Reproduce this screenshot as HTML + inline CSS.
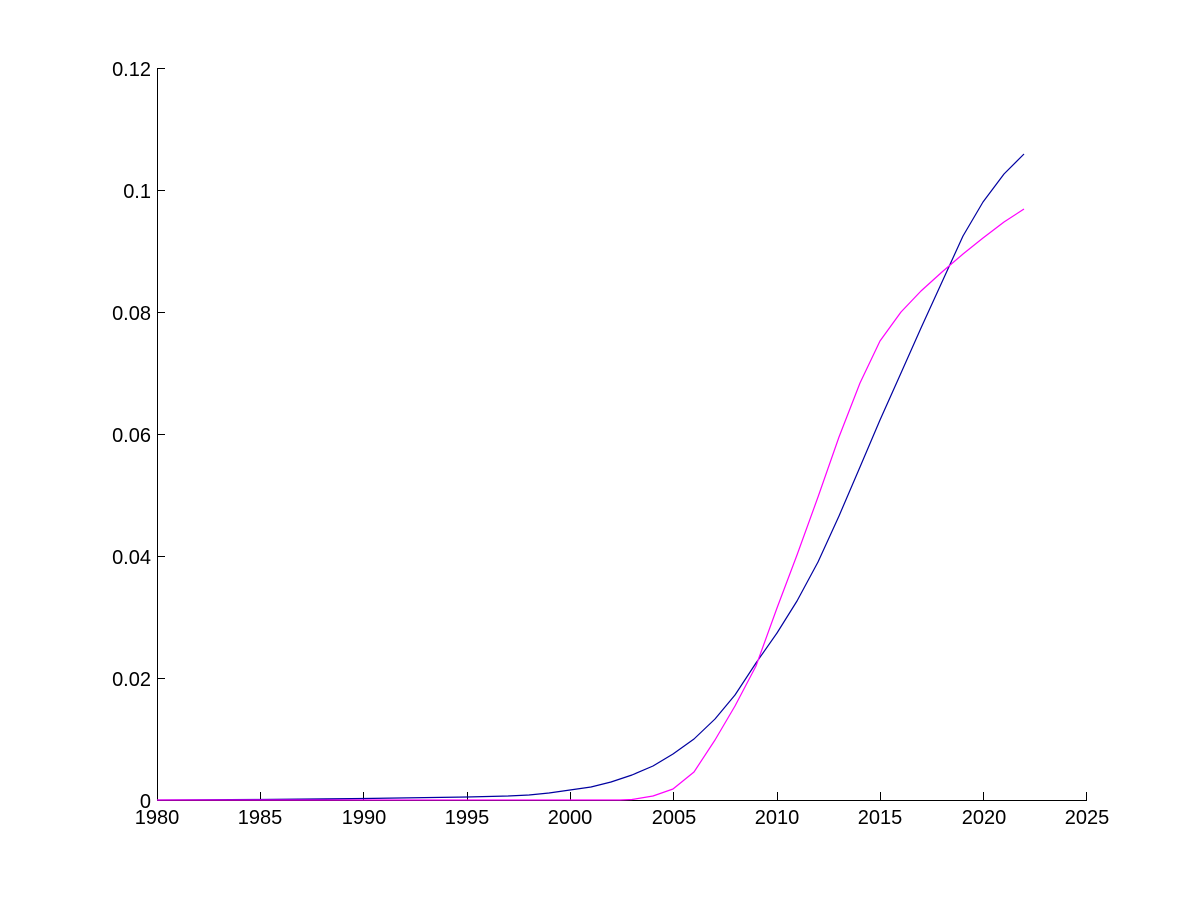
<!DOCTYPE html>
<html><head><meta charset="utf-8"><style>
html,body{margin:0;padding:0;background:#fff;width:1200px;height:900px;overflow:hidden}
text{font-family:"Liberation Sans",Arial,sans-serif;font-size:20px;fill:#000}
</style></head><body>
<svg width="1200" height="900" viewBox="0 0 1200 900" xmlns="http://www.w3.org/2000/svg">
<rect width="1200" height="900" fill="#fff"/>
<g stroke="#000" stroke-width="1" fill="none" shape-rendering="crispEdges">
<line x1="157.5" y1="68" x2="157.5" y2="800"/>
<line x1="157" y1="800.5" x2="1087" y2="800.5"/>
<line x1="157" y1="68.5" x2="165" y2="68.5"/>
<line x1="157" y1="190.5" x2="165" y2="190.5"/>
<line x1="157" y1="312.5" x2="165" y2="312.5"/>
<line x1="157" y1="434.5" x2="165" y2="434.5"/>
<line x1="157" y1="556.5" x2="165" y2="556.5"/>
<line x1="157" y1="678.5" x2="165" y2="678.5"/>
<line x1="260.5" y1="792" x2="260.5" y2="800"/>
<line x1="363.5" y1="792" x2="363.5" y2="800"/>
<line x1="467.5" y1="792" x2="467.5" y2="800"/>
<line x1="570.5" y1="792" x2="570.5" y2="800"/>
<line x1="673.5" y1="792" x2="673.5" y2="800"/>
<line x1="777.5" y1="792" x2="777.5" y2="800"/>
<line x1="880.5" y1="792" x2="880.5" y2="800"/>
<line x1="983.5" y1="792" x2="983.5" y2="800"/>
<line x1="1086.5" y1="792" x2="1086.5" y2="800"/>
</g>
<g text-anchor="end">
<text x="151" y="76">0.12</text>
<text x="151" y="198">0.1</text>
<text x="151" y="320">0.08</text>
<text x="151" y="442">0.06</text>
<text x="151" y="564">0.04</text>
<text x="151" y="686">0.02</text>
<text x="151" y="808">0</text>
</g>
<g text-anchor="middle">
<text x="157" y="824">1980</text>
<text x="260" y="824">1985</text>
<text x="364" y="824">1990</text>
<text x="467" y="824">1995</text>
<text x="570" y="824">2000</text>
<text x="674" y="824">2005</text>
<text x="777" y="824">2010</text>
<text x="880" y="824">2015</text>
<text x="984" y="824">2020</text>
<text x="1087" y="824">2025</text>
</g>
<polyline fill="none" stroke="#0000a0" stroke-width="1.2" stroke-linejoin="round" points="157,800 260,799.5 364,798.5 467,797 508,796 529,795 549,793 570,790 591,787 611,782 632,775 653,766 673,754 694,739 715,719 735,695 756,663 777,633 797,601 818,562 839,516 860,467 880,420 901,373 921,328 942,282 963,236 983,202 1004,174 1024,154"/>
<polyline fill="none" stroke="#ff00ff" stroke-width="1.2" stroke-linejoin="round" points="157,800 620,800 632,799.5 653,796 673,789 694,772 715,740 735,706 756,666 777,608 797,555 818,497 839,437 860,383 880,341 901,312 921,291 942,272 963,254 983,238 1004,222 1024,209"/>
</svg>
</body></html>
